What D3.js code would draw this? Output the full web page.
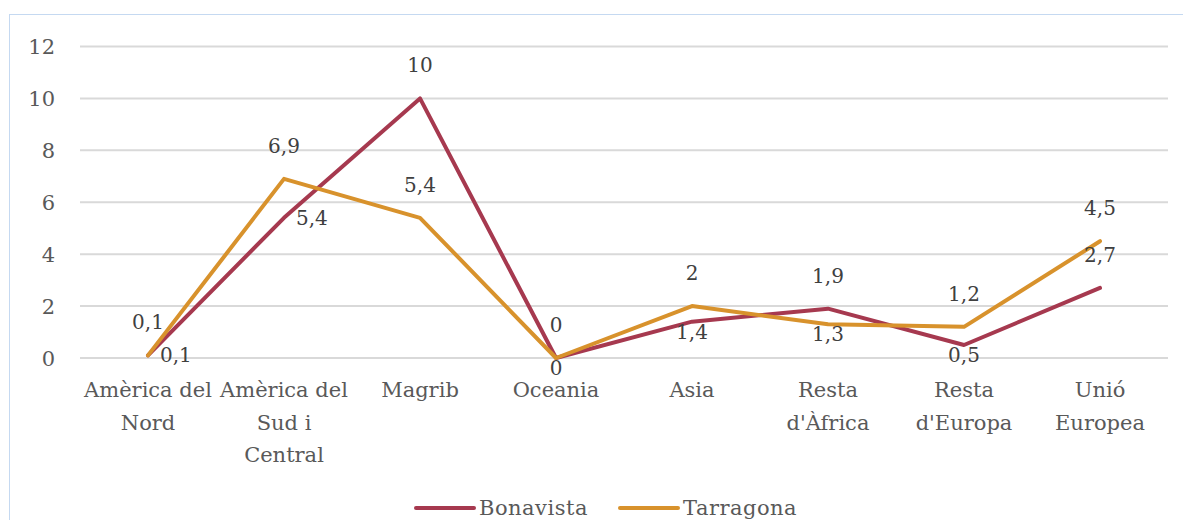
<!DOCTYPE html>
<html>
<head>
<meta charset="utf-8">
<script src="https://cdn.jsdelivr.net/npm/d3@7"></script>
<style>
  body { margin: 0; background: #fff; }
  text { font-family: "DejaVu Serif", "Liberation Serif", serif; fill: #595959; }
</style>
</head>
<body>
<svg id="chart" width="1183" height="520"></svg>
<script>
// categories (line breaks as in the original axis)
let categories = [
  ["Amèrica del", "Nord"],
  ["Amèrica del", "Sud i", "Central"],
  ["Magrib"],
  ["Oceania"],
  ["Asia"],
  ["Resta", "d'Àfrica"],
  ["Resta", "d'Europa"],
  ["Unió", "Europea"]
];
let seriesNames = ["Bonavista", "Tarragona"];
let bonavista = [0.1, 5.4, 10, 0, 1.4, 1.9, 0.5, 2.7];
let tarragona = [0.1, 6.9, 5.4, 0, 2, 1.3, 1.2, 4.5];
let yTicks = [0, 2, 4, 6, 8, 10, 12];

// where each data label sits relative to its point
let labelPos = [
  ["right", "right", "above", "above", "below", "above", "below", "above"],
  ["above", "above", "above", "below", "above", "below", "above", "above"]
];

let colors = ["#a6394f", "#d8922c"];
let fmt = v => String(v).replace(".", ",");

let svg = d3.select("#chart");

// outer frame
svg.append("rect")
  .attr("x", 9.5).attr("y", 14.5)
  .attr("width", 1200).attr("height", 520)
  .attr("fill", "none")
  .attr("stroke", "#c5d9f1");

let plotLeft = 80, plotRight = 1168, plotTop = 46.5, plotBottom = 358;

let x = d3.scaleBand()
  .domain(d3.range(categories.length))
  .range([plotLeft, plotRight]);

let y = d3.scaleLinear()
  .domain([0, 12])
  .range([plotBottom, plotTop]);

// gridlines
svg.append("g")
  .selectAll("line")
  .data(yTicks)
  .join("line")
  .attr("x1", plotLeft).attr("x2", plotRight)
  .attr("y1", d => y(d)).attr("y2", d => y(d))
  .attr("stroke", "#d9d9d9")
  .attr("stroke-width", 2);

// y tick labels
svg.append("g")
  .selectAll("text")
  .data(yTicks)
  .join("text")
  .attr("x", 55)
  .attr("y", d => y(d))
  .attr("dy", "0.36em")
  .attr("text-anchor", "end")
  .style("font-size", "21px")
  .text(d => d);

// x category labels
let cx = i => x(i) + x.bandwidth() / 2;
let xl = svg.append("g")
  .selectAll("text")
  .data(categories)
  .join("text")
  .attr("text-anchor", "middle")
  .style("font-size", "21px");
xl.each(function(lines, i) {
  d3.select(this).selectAll("tspan")
    .data(lines)
    .join("tspan")
    .attr("x", cx(i))
    .attr("y", (d, j) => 397 + j * 32.5)
    .text(d => d);
});

// lines
let line = d3.line()
  .x((d, i) => cx(i))
  .y(d => y(d));

[bonavista, tarragona].forEach((vals, s) => {
  svg.append("path")
    .datum(vals)
    .attr("fill", "none")
    .attr("stroke", colors[s])
    .attr("stroke-width", 4)
    .attr("stroke-linejoin", "round")
    .attr("stroke-linecap", "round")
    .attr("d", line);
});

// data labels
[bonavista, tarragona].forEach((vals, s) => {
  svg.append("g")
    .selectAll("text")
    .data(vals)
    .join("text")
    .attr("x", (d, i) => {
      let p = labelPos[s][i];
      if (p === "left") return cx(i) - 11;
      if (p === "right") return cx(i) + 12;
      return cx(i);
    })
    .attr("y", (d, i) => {
      let p = labelPos[s][i];
      if (p === "above") return y(d) - 26;
      if (p === "below") return y(d) + 17;
      return y(d) + 7;
    })
    .attr("text-anchor", (d, i) => {
      let p = labelPos[s][i];
      if (p === "left") return "end";
      if (p === "right") return "start";
      return "middle";
    })
    .style("font-size", "20px")
    .style("fill", "#404040")
    .text(d => fmt(d));
});

// legend
let legendX = [416, 620];
seriesNames.forEach((name, s) => {
  svg.append("line")
    .attr("x1", legendX[s]).attr("x2", legendX[s] + 58)
    .attr("y1", 508).attr("y2", 508)
    .attr("stroke", colors[s])
    .attr("stroke-width", 4)
    .attr("stroke-linecap", "round");
  svg.append("text")
    .attr("x", legendX[s] + 63)
    .attr("y", 515)
    .style("font-size", "21px")
    .style("letter-spacing", "0.5px")
    .text(name);
});
</script>
</body>
</html>
